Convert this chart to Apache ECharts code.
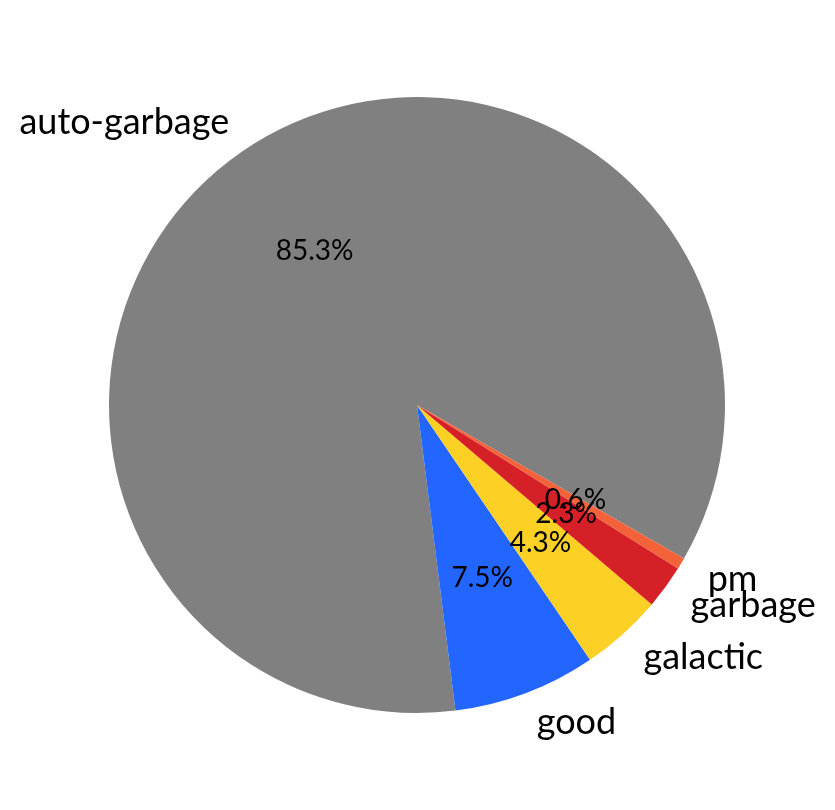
<!DOCTYPE html>
<html>
<head>
<meta charset="utf-8">
<script src="https://cdn.jsdelivr.net/npm/echarts@6/dist/echarts.min.js"></script>
<style>
  html, body { margin: 0; padding: 0; background: #fff; }
  #pie { width: 835px; height: 810px; }
</style>
</head>
<body>
<div id="pie"></div>
<script>
var names = ['auto-garbage', 'good', 'galactic', 'garbage', 'pm'];
var shares = [85.3, 7.5, 4.3, 2.3, 0.6];
var colors = ['#808080', '#2266ff', '#fcd024', '#d62028', '#f4623a'];

var pieChart = echarts.init(document.getElementById('pie'));

var R = 308;
var center = [417, 405];
var startAngle = -29.9;

function buildData(withColor)
{
    var out = [];
    for (var i = 0; i < names.length; ++i)
        out.push({
            name: names[i],
            value: shares[i],
            itemStyle: { color: withColor ? colors[i] : 'rgba(0,0,0,0)' }
        });
    return out;
}

var pieOption = {
    animation: false,
    series: [
      {
        // slices + outer name labels at 1.1 r
        type: 'pie',
        center: center,
        radius: [0, R],
        startAngle: startAngle,
        clockwise: false,
        avoidLabelOverlap: false,
        labelLayout: { hideOverlap: false },
        itemStyle: { borderWidth: 0 },
        emphasis: { disabled: true },
        label: {
          show: true,
          position: 'outside',
          formatter: '{b}',
          fontFamily: 'Lato',
          fontSize: 36,
          color: '#000',
          distanceToLabelLine: 0
        },
        labelLine: { show: false, length: 31, length2: 0 },
        data: buildData(true)
      },
      {
        // transparent ring carrying the percentages at 0.6 r
        type: 'pie',
        center: center,
        radius: [0, 2 * (0.6 * R - 3)],
        startAngle: startAngle,
        clockwise: false,
        avoidLabelOverlap: false,
        labelLayout: { hideOverlap: false },
        silent: true,
        z: 3,
        emphasis: { disabled: true },
        label: {
          show: true,
          position: 'inside',
          formatter: function (p) { return p.value.toFixed(1) + '%'; },
          fontFamily: 'Lato',
          fontSize: 28,
          color: '#000'
        },
        labelLine: { show: false },
        data: buildData(false)
      }
    ]
};

pieChart.setOption(pieOption);
</script>
</body>
</html>
